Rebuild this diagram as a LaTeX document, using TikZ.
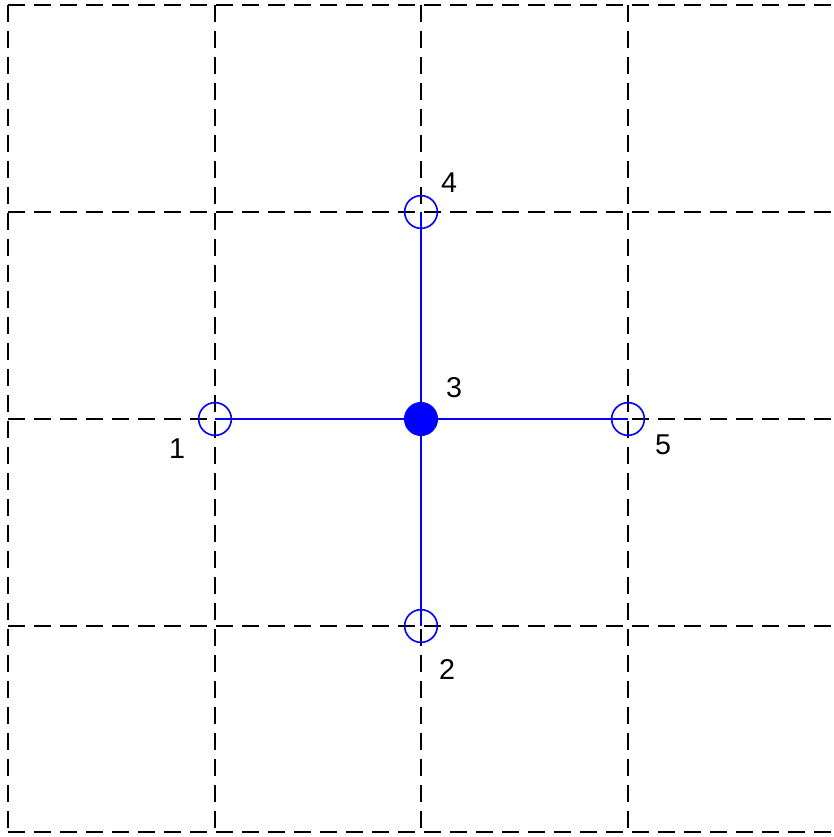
\documentclass[tikz,border=0pt]{standalone}
\usepackage{fontspec}
\setmainfont{Liberation Sans}
\begin{document}
\begin{tikzpicture}[x=0.75pt,y=-0.75pt,
  gridline/.style={black,line width=1pt,dash pattern=on 12.4pt off 7.1pt},
  edge/.style={blue,line width=1.2pt},
  vtx/.style={circle,draw=blue,line width=1.2pt,minimum size=24.5pt,inner sep=0pt},
  vtxfull/.style={circle,fill=blue,draw=blue,line width=0.5pt,minimum size=25pt,inner sep=0pt},
  lbl/.style={inner sep=0pt,font=\fontsize{21.5}{25}\selectfont}]
\useasboundingbox (0,0) rectangle (833,837);
\clip (0,0) rectangle (833,837);
% grid
\foreach \y in {5,212,419,626,832} \draw[gridline] (8,\y) -- (840,\y);
\foreach \x in {8,215,421,628} \draw[gridline] (\x,5) -- (\x,840);
% vertices
\coordinate (c1) at (215,419);
\coordinate (c2) at (421,626);
\coordinate (c3) at (421,419);
\coordinate (c4) at (421,212);
\coordinate (c5) at (628,419);
% edges
\draw[edge] (c1) -- (c3) -- (c5);
\draw[edge] (c4) -- (c3) -- (c2);
\node[vtx] (n1) at (c1) {};
\node[vtx] (n2) at (c2) {};
\node[vtxfull] (n3) at (c3) {};
\node[vtx] (n4) at (c4) {};
\node[vtx] (n5) at (c5) {};
% labels
\node[lbl] (l1) at (177,449) {1};
\node[lbl] (l2) at (447,669) {2};
\node[lbl] (l3) at (454,388) {3};
\node[lbl] (l4) at (449,183) {4};
\node[lbl] (l5) at (663,445) {5};
\end{tikzpicture}
\end{document}
